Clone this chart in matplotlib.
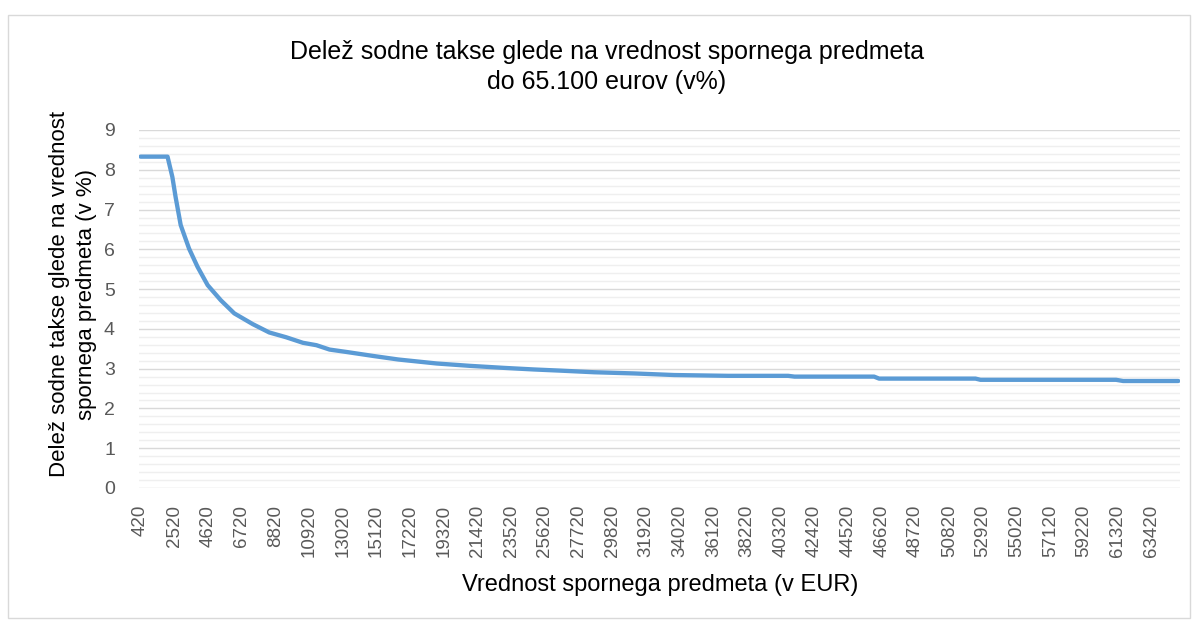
import matplotlib
matplotlib.use("Agg")
import matplotlib.pyplot as plt
from matplotlib.patches import Rectangle
import numpy as np

# Data (value of dispute in EUR -> fee share in %)
x_values = [420, 2100, 2400, 2600, 2920, 3440, 3970, 4600, 5420, 6260, 7410,
            8440, 9490, 10540, 11380, 12200, 13250, 14910, 16490, 18880,
            20980, 23060, 24930, 26610, 28690, 31190, 33680, 37040, 40780,
            41180, 46140, 46450, 52460, 52770, 61220, 61660, 65100]
y_values = [8.33, 8.33, 7.82, 7.32, 6.61, 6.02, 5.56, 5.10, 4.72, 4.39, 4.12,
            3.91, 3.79, 3.65, 3.59, 3.48, 3.42, 3.32, 3.23, 3.13,
            3.07, 3.02, 2.98, 2.95, 2.91, 2.88, 2.84, 2.82, 2.82,
            2.80, 2.80, 2.75, 2.75, 2.72, 2.72, 2.69, 2.69]

tick_values = list(range(420, 65101, 2100))
tick_labels = [str(v) for v in tick_values]

title = "Delež sodne takse glede na vrednost spornega predmeta\ndo 65.100 eurov (v%)"
ylabel = "Delež sodne takse glede na vrednost\nspornega predmeta (v %)"
xlabel = "Vrednost spornega predmeta (v EUR)"

plt.rcParams['font.family'] = ['Liberation Sans', 'DejaVu Sans']

fig = plt.figure(figsize=(11.95, 6.23), dpi=100)
W, H = 1195, 623
ax = fig.add_axes([138.5 / W, 1 - 488 / H, (1180 - 138.5) / W, (488 - 130) / H])

ax.plot(x_values, y_values, color="#5B9BD5", linewidth=3.1, solid_capstyle="round",
        solid_joinstyle="round", zorder=3)

ax.set_xlim(420 - 130, 65100 + 105)
ax.set_ylim(0, 9)
ax.set_yticks(range(0, 10))
ax.set_yticks(np.arange(0, 9.01, 0.2), minor=True)
ax.set_xticks(tick_values)
ax.set_xticklabels(tick_labels, rotation=90)

ax.grid(which="major", axis="y", color="#D9D9D9", linewidth=1.0, zorder=0)
ax.grid(which="minor", axis="y", color="#EFEFEF", linewidth=1.0, zorder=0)
ax.grid(which="major", axis="x", visible=False)
for s in ax.spines.values():
    s.set_visible(False)
ax.tick_params(axis="both", which="both", length=0)
ax.tick_params(axis="y", labelsize=14, labelcolor="#595959", pad=17)
ax.tick_params(axis="x", labelsize=13.5, labelcolor="#595959", pad=12)

fig.text(607 / W, 1 - 67 / H, title, ha="center", va="center", fontsize=18,
         color="black", linespacing=1.35)
fig.text(73 / W, 1 - 294 / H, ylabel, ha="center", va="center", rotation=90,
         fontsize=16, color="black", linespacing=1.4)
fig.text(660 / W, 1 - 585 / H, xlabel, ha="center", va="center", fontsize=17,
         color="black")

fig.patches.append(Rectangle((8 / W, 1 - 618 / H), (1190 - 8) / W, (618 - 15) / H,
                             transform=fig.transFigure, fill=False,
                             edgecolor="#D9D9D9", linewidth=1.0))

fig.savefig("out.png", dpi=100)
